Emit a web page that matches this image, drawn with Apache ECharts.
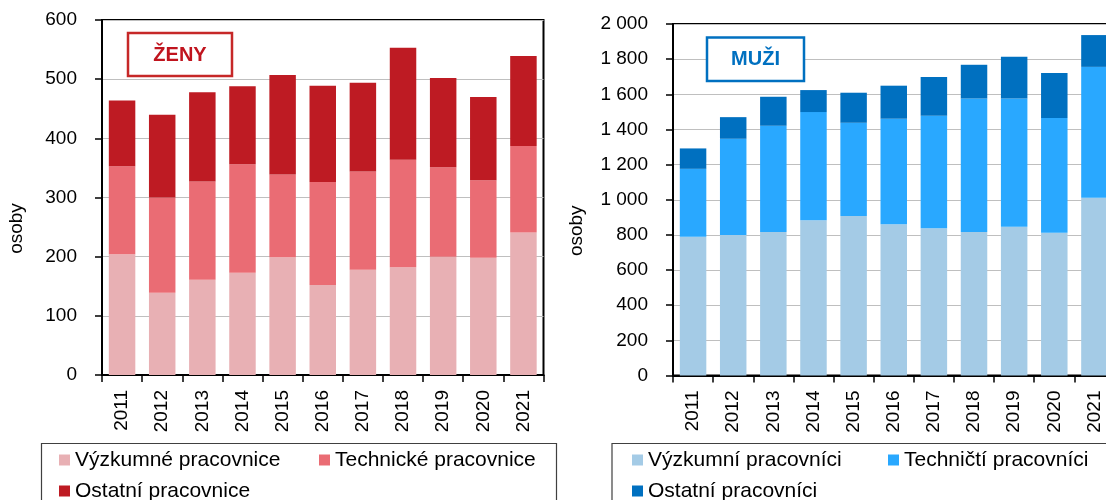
<!DOCTYPE html>
<html>
<head>
<meta charset="utf-8">
<script src="https://cdn.jsdelivr.net/npm/echarts@6/dist/echarts.min.js"></script>
<style>
html,body{margin:0;padding:0;background:#fff;}
#c{width:1106px;height:500px;}
</style>
</head>
<body>
<div id="c"></div>
<script>
const years = ['2011','2012','2013','2014','2015','2016','2017','2018','2019','2020','2021'];

const womenNames = ['Výzkumné pracovnice', 'Technické pracovnice', 'Ostatní pracovnice'];
const womenResearch = [204, 139, 161, 173, 199, 152, 178, 182, 200, 198, 241];
const womenTech     = [149, 161, 166, 183, 140, 174, 166, 182, 151, 131, 146];
const womenOther    = [111, 140, 151, 132, 168, 163, 150, 189, 151, 141, 152];

const menNames = ['Výzkumní pracovníci', 'Techničtí pracovníci', 'Ostatní pracovníci'];
const menResearch = [789, 800, 817, 884, 907, 861, 838, 817, 846, 812, 1011];
const menTech     = [387, 547, 604, 615, 531, 600, 640, 759, 730, 653, 745];
const menOther    = [116, 123, 165, 125, 171, 188, 220, 192, 238, 256, 181];

const womenColors = ['#E8B0B4', '#EA6C74', '#BE1B23'];
const menColors = ['#A4CBE6', '#29A8FF', '#0070C0'];

const FONT = 'Liberation Sans, Arial, sans-serif';

function fmt(v) { return String(v).replace(/\B(?=(\d{3})+(?!\d))/g, ' '); }

function xAxis(gi) {
  return {
    type: 'category', gridIndex: gi, data: years,
    axisLine: { lineStyle: { color: '#000', width: 2 } },
    axisTick: { show: true, length: 7, lineStyle: { color: '#000', width: 1.5 } },
    axisLabel: { rotate: 90, fontSize: 19, color: '#000', fontFamily: FONT, margin: 15 }
  };
}
function yAxis(gi, max, interval, gap) {
  return {
    type: 'value', gridIndex: gi, min: 0, max: max, interval: interval,
    name: 'osoby', nameLocation: 'middle', nameGap: gap, nameRotate: 90,
    nameTextStyle: { fontSize: 19, color: '#000', fontFamily: FONT, padding: [0, 62, 0, 0] },
    axisLine: { show: true, lineStyle: { color: '#000', width: 2 } },
    axisTick: { show: true, length: 7, lineStyle: { color: '#000', width: 1.5 } },
    axisLabel: { fontSize: 19, color: '#000', fontFamily: FONT, margin: 25, formatter: fmt },
    splitLine: { lineStyle: { color: '#BFBFBF', width: 1.2 } }
  };
}
function bar(name, data, color, gi) {
  return {
    type: 'bar', name: name, data: data, stack: 's' + gi,
    xAxisIndex: gi, yAxisIndex: gi, barWidth: '66%',
    itemStyle: { color: color }
  };
}
function legend(name, left, top) {
  return {
    data: [name], left: left, top: top, padding: 0,
    itemWidth: 11, itemHeight: 11, icon: 'rect', selectedMode: false,
    textStyle: { fontSize: 21, color: '#000', fontFamily: FONT }
  };
}

const chart = echarts.init(document.getElementById('c'), null, { renderer: 'canvas' });
chart.setOption({
  animation: false,
  backgroundColor: '#fff',
  grid: [
    { left: 102, top: 20, width: 441.5, height: 355, show: true, borderColor: '#000', borderWidth: 2, containLabel: false, outerBoundsMode: 'none' },
    { left: 673, top: 24, width: 441.5, height: 351.5, show: true, borderColor: '#000', borderWidth: 2, containLabel: false, outerBoundsMode: 'none' }
  ],
  xAxis: [xAxis(0), xAxis(1)],
  yAxis: [yAxis(0, 600, 100, 76), yAxis(1, 2000, 200, 87)],
  legend: [
    legend(womenNames[0], 59, 449.5),
    legend(womenNames[1], 319, 449.5),
    legend(womenNames[2], 59, 480.5),
    legend(menNames[0], 632, 449.5),
    legend(menNames[1], 888, 449.5),
    legend(menNames[2], 632, 480.5)
  ],
  series: [
    bar(womenNames[0], womenResearch, womenColors[0], 0),
    bar(womenNames[1], womenTech, womenColors[1], 0),
    bar(womenNames[2], womenOther, womenColors[2], 0),
    bar(menNames[0], menResearch, menColors[0], 1),
    bar(menNames[1], menTech, menColors[1], 1),
    bar(menNames[2], menOther, menColors[2], 1)
  ],
  graphic: [
    { type: 'rect', shape: { x: 41.5, y: 443.5, width: 515, height: 80 }, style: { fill: 'none', stroke: '#404040', lineWidth: 1.2 }, z: 0 },
    { type: 'rect', shape: { x: 612, y: 443.5, width: 600, height: 80 }, style: { fill: 'none', stroke: '#404040', lineWidth: 1.2 }, z: 0 },
    { type: 'rect', shape: { x: 128, y: 33, width: 104, height: 43 }, style: { fill: '#fff', stroke: '#C62828', lineWidth: 2.5 }, z: 10 },
    { type: 'text', x: 180, y: 55, style: { text: 'ŽENY', fill: '#C0141E', font: 'bold 20px Liberation Sans, Arial, sans-serif', textAlign: 'center', textVerticalAlign: 'middle' }, z: 11 },
    { type: 'rect', shape: { x: 707, y: 37.5, width: 97, height: 43.5 }, style: { fill: '#fff', stroke: '#0070C0', lineWidth: 2.5 }, z: 10 },
    { type: 'text', x: 755.5, y: 59.5, style: { text: 'MUŽI', fill: '#0070C0', font: 'bold 20px Liberation Sans, Arial, sans-serif', textAlign: 'center', textVerticalAlign: 'middle' }, z: 11 }
  ]
});
</script>
</body>
</html>
